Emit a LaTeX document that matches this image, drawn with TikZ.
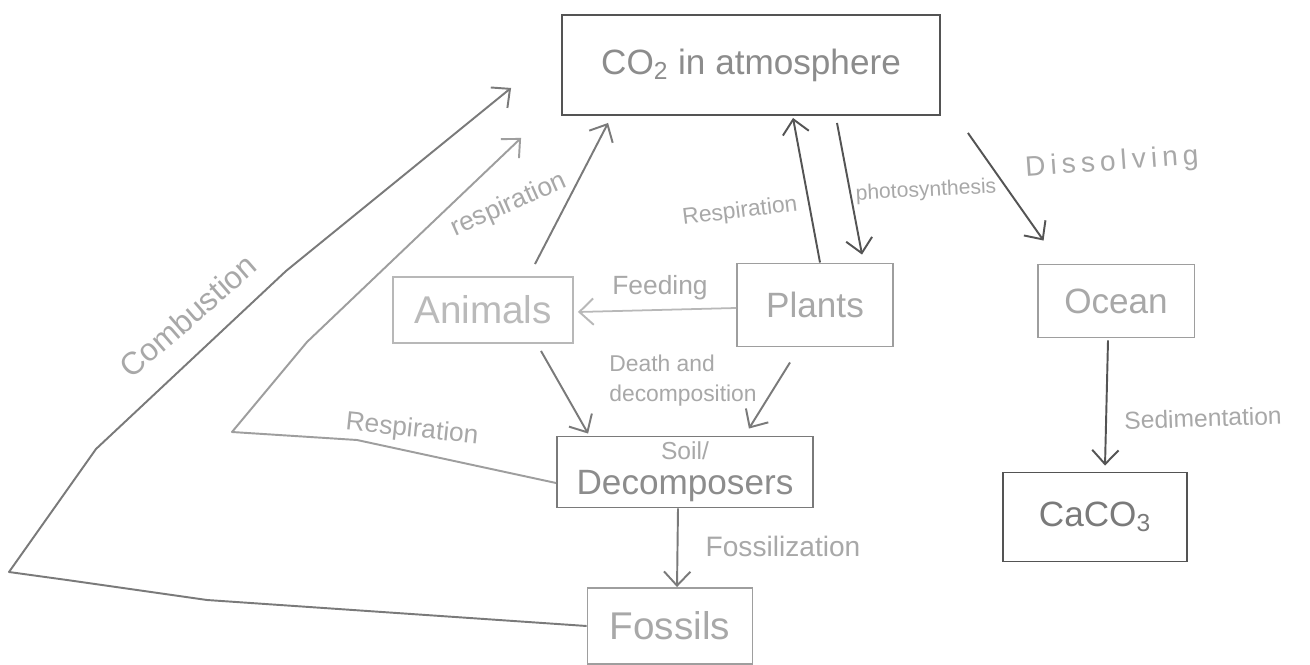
\documentclass[tikz,border=0pt]{standalone}
\usepackage{fontspec}
\setmainfont{Liberation Sans}
\usetikzlibrary{arrows.meta,calc}

\definecolor{inkdark}{gray}{0.33}
\definecolor{inkmid}{gray}{0.48}
\definecolor{inklight}{gray}{0.62}
\definecolor{inkpale}{gray}{0.72}
\definecolor{txtmid}{gray}{0.55}
\definecolor{txtlight}{gray}{0.66}

\tikzset{
  box/.style={draw=inkmid, line width=1.1pt, rectangle, inner sep=0pt,
              text=txtlight, font=\fontsize{20}{22}\selectfont},
  arr/.style={draw=inkmid, line width=1.1pt, line join=round,
              -{Straight Barb[length=8pt,width=15pt,line width=1.1pt]}},
  lbl/.style={text=txtlight, inner sep=0pt, font=\fontsize{14}{16}\selectfont}
}

\begin{document}
\begin{tikzpicture}[x=0.02cm, y=-0.02cm]
\path[use as bounding box, fill=white] (0,0) rectangle (1310,665);

% reservoirs
\node[box, draw=inkdark, text=txtmid, minimum width=7.56cm, minimum height=2cm]
  (co2) at (751,65) {CO\textsubscript{2} in atmosphere};
\node[box, draw=inkpale, text=txtlight!80, minimum width=3.6cm, minimum height=1.32cm,
  font=\fontsize{22}{24}\selectfont]
  (animals) at (483,310) {Animals};
\node[box, draw=inklight, minimum width=3.12cm, minimum height=1.66cm]
  (plants) at (815,305) {Plants};
\node[box, draw=inklight, minimum width=3.14cm, minimum height=1.46cm]
  (ocean) at (1116,301) {Ocean};
\node[box, draw=inkmid, text=txtmid, minimum width=5.12cm, minimum height=1.42cm,
  align=center]
  (soil) at (685,472) {{\fontsize{14}{14}\selectfont\color{txtlight}Soil/}\\[-2pt]Decomposers};
\node[box, draw=inkdark, text=inkmid, minimum width=3.68cm, minimum height=1.78cm]
  (caco3) at (1095,517) {CaCO\textsubscript{3}};
\node[box, draw=inklight, minimum width=3.3cm, minimum height=1.52cm,
  font=\fontsize{22}{24}\selectfont]
  (fossils) at (670,626) {Fossils};

% combustion of fossils back to the atmosphere
\draw[arr] (fossils.west) -- (207,600) -- (67,580) -- (9,572) -- (96,449)
  -- (286,271) -- ([shift={(-50,-28)}]co2.south west);
% respiration by the soil decomposers
\draw[arr, draw=inklight] ([shift={(0,11)}]soil.west) -- (357,440) -- (232,432)
  -- (307,342) -- ([shift={(-40,22)}]co2.south west);
% animal respiration
\draw[arr] ([shift={(52,-12)}]animals.north) -- ([shift={(47,7)}]co2.south west);
% plant respiration and photosynthesis
\draw[arr, draw=inkdark] ([shift={(5,0)}]plants.north) -- ([shift={(42,2)}]co2.south);
\draw[arr, draw=inkdark] ([shift={(86,7)}]co2.south) -- ([shift={(47,-8)}]plants.north);
% dissolving into the ocean
\draw[arr, draw=inkdark] ([shift={(27,17)}]co2.south east) -- ([shift={(7,-23)}]ocean.north west);
% feeding
\draw[arr, draw=inkpale, line width=1pt] ([shift={(0,3)}]plants.west) -- ([shift={(4,2)}]animals.east);
% death and decomposition
\draw[arr] ([shift={(58,7)}]animals.south) -- ([shift={(32,-2)}]soil.north west);
\draw[arr] ([shift={(-25,15)}]plants.south) -- ([shift={(-65,-7)}]soil.north east);
% fossilization
\draw[arr] ([shift={(-7,0)}]soil.south) -- ([shift={(7,0)}]fossils.north);
% sedimentation
\draw[arr, draw=inkdark] ([shift={(-8,2)}]ocean.south) -- ([shift={(10,-6)}]caco3.north);

% process labels
\node[lbl, rotate=41, font=\fontsize{18}{20}\selectfont] (lcomb) at (188,316) {Combustion};
\node[lbl, rotate=24, font=\fontsize{15}{17}\selectfont] (lresa) at (509,205) {respiration};
\node[lbl, rotate=7, font=\fontsize{13}{15}\selectfont] (lresp) at (740,212) {Respiration};
\node[lbl, rotate=3, font=\fontsize{12}{14}\selectfont] (lphot) at (926,191) {photosynthesis};
\node[lbl, rotate=4, font=\fontsize{16}{18}\selectfont\addfontfeature{LetterSpace=18}]
  (ldiss) at (1112,163) {Dissolving};
\node[lbl, font=\fontsize{15}{17}\selectfont] (lfeed) at (660,288) {Feeding};
\node[lbl, align=left, font=\fontsize{13}{17}\selectfont] (ldeath) at (683,381) {Death and\\decomposition};
\node[lbl, rotate=-6, font=\fontsize{15}{17}\selectfont] (lress) at (412,430) {Respiration};
\node[lbl, font=\fontsize{16}{18}\selectfont] (lfoss) at (783,546) {Fossilization};
\node[lbl, rotate=2, font=\fontsize{14}{16}\selectfont] (lsed) at (1203,418) {Sedimentation};
\end{tikzpicture}
\end{document}
